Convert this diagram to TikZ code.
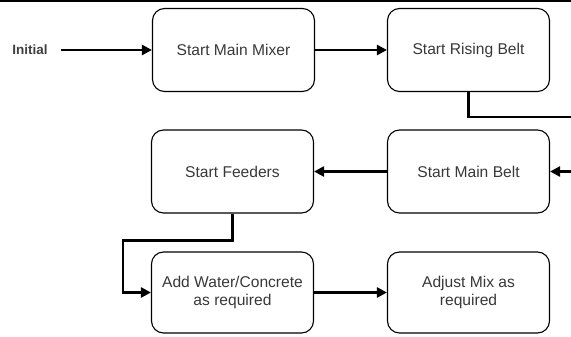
\documentclass[tikz,border=0pt]{standalone}
\usepackage{fontspec}
\setmainfont{Liberation Sans}
\usetikzlibrary{arrows.meta}
\begin{document}
\begin{tikzpicture}[x=1pt,y=-1pt,
  box/.style={draw=black, line width=1.1pt, rounded corners=12pt, minimum width=162pt, minimum height=83pt, align=center, text=black!78, font=\fontsize{15.6}{18}\selectfont, inner sep=2pt},
  conn/.style={line width=2.9pt, -{Triangle[length=10pt,width=10pt]}},
  wire/.style={line width=2.9pt}]
\useasboundingbox (0,0) rectangle (571,337);
\draw[line width=1.6pt] (0,0.8) -- (571,0.8);
\node[font=\bfseries\fontsize{13.5}{15}\selectfont, text=black!75] (init) at (30,50) {Initial};
\node[box] (mm) at (233.5,50) {Start Main Mixer};
\node[box] (rb) at (468.5,50) {Start Rising Belt};
\node[box] (fe) at (232.5,171.5) {Start Feeders};
\node[box] (mb) at (468.5,171.5) {Start Main Belt};
\node[box, minimum height=81pt] (aw) at (232.5,292.5) {Add Water/Concrete\\as required};
\node[box, minimum height=81pt] (am) at (468.5,292.5) {Adjust Mix as\\required};
\coordinate (exitA) at (572,117);
\coordinate (entryB) at (572,171.5);
\draw[conn] ([xshift=10pt]init.east) -- (mm.west);
\draw[conn] (mm.east) -- (rb.west);
\draw[wire] (rb.south) |- (exitA);
\draw[conn] (entryB) -- (mb.east);
\draw[conn] (mb.west) -- (fe.east);
\draw[conn] (fe.south) -- ++(0,27) -| ([xshift=-28pt]aw.west) -- (aw.west);
\draw[conn] (aw.east) -- (am.west);
\end{tikzpicture}
\end{document}
